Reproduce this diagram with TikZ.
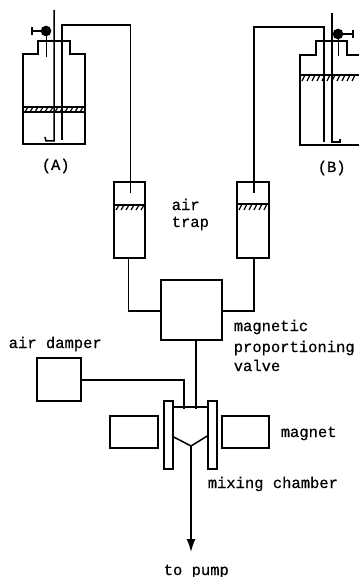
\documentclass[tikz,border=0pt]{standalone}
\usepackage{fontspec}
\setmonofont[FakeBold=0.6]{Liberation Mono}
\usetikzlibrary{arrows.meta}
\usetikzlibrary{positioning}

\tikzset{
    box/.style={draw, rectangle, inner sep=0pt},
    label/.style={anchor=base west, inner sep=0pt, font=\ttfamily\fontsize{15.5}{15.5}\selectfont},
    hatch/.style={line width=1.2pt},
}

\begin{document}
\begin{tikzpicture}
        [
            x=1pt, y=-1pt,
            line width=1.5pt,
        ]
        \useasboundingbox (0,0) rectangle (359,577);

        % bottles
        \draw (23,144) -- (23,54) -- (38,54) -- (38,41) -- (70,41) -- (70,54) -- (85,54) -- (85,144) -- cycle;
        \draw (359,55) -- (347,55) -- (347,41) -- (316,41) -- (316,55) -- (300,55) -- (300,145) -- (359,145);
        % liquid
        \draw (23,107) -- (85,107);
        \draw (23,112) -- (85,112);
        \draw (300,75) -- (359,75);
        \foreach \x in {25,30,...,80} \draw[hatch] (\x+3,107) -- (\x,112);
        \foreach \x in {302,307,...,355} \draw[hatch] (\x+3,75) -- (\x,81);

        % stopcocks
        \node[box, circle, minimum size=9pt, fill=black] (cockA) at (46,31) {};
        \node[box, circle, minimum size=9pt, fill=black] (cockB) at (338,34) {};
        \draw (cockA) -- (32,31) (32,27) -- (32,35);
        \draw (cockB) -- (353,34) (353,30) -- (353,38);
        \draw[line width=1pt] (cockA) -- (46,57);
        \draw[line width=1pt] (cockB) -- (338,56);

        % inner tubes
        \draw (54,10) -- (54,141) -- (46,141) -- (45,137);
        \draw (332,13) -- (332,142) -- (340,142) -- (340,139);

        % air traps
        \node[box, minimum width=31pt, minimum height=76pt] (trapA) at (129.5,220) {};
        \node[box, minimum width=32pt, minimum height=76pt] (trapB) at (253,220) {};
        \draw (trapA.west |- 0,205) -- (trapA.east |- 0,205);
        \draw (trapB.west |- 0,204) -- (trapB.east |- 0,204);
        \foreach \x in {116,121,...,141} \draw[hatch] (\x+3,205) -- (\x,210);
        \foreach \x in {239,244,...,264} \draw[hatch] (\x+3,204) -- (\x,210);

        % long tubes
        \coordinate (tubeA) at (62,140);
        \coordinate (tubeB) at (324,142);
        \draw (tubeA) -- (62,25) -- (130.5,25) -- (130.5,193);
        \draw (tubeB) -- (324,27) -- (254,27) -- (254,193);

        % valve, damper, magnets
        \node[box, minimum width=61pt, minimum height=60pt] (valve) at (191.5,310) {};
        \node[box, minimum width=44pt, minimum height=43pt] (damper) at (59,379.5) {};
        \node[box, minimum width=48pt, minimum height=32pt] (magnetA) at (134,432) {};
        \node[box, minimum width=47pt, minimum height=32pt] (magnetB) at (245.5,432) {};
        \draw (trapA.south -| 128.5,0) |- (valve.west |- 0,311);
        \draw (trapB.south -| 254,0) |- (valve.east |- 0,311);

        % mixing chamber
        \node[box, minimum width=9pt, minimum height=68pt] (plateA) at (168.5,435) {};
        \node[box, minimum width=9pt, minimum height=68pt] (plateB) at (212.5,435) {};
        \coordinate (tip) at (191,446);
        \draw (plateA.east |- 0,407) -- (plateB.west |- 0,407);
        \draw (plateA.east |- 0,437) -- (tip) -- (plateB.west |- 0,436);
        \draw (valve.south -| 196,0) -- (196,409);
        \draw (damper.east |- 0,380) -| (184,409);
        \coordinate (pump) at (191,552);
        \draw[-{Latex[length=13pt,width=9pt]}] (tip) -- (pump);

        % labels
        \node[label] (labelA) at (41,170) {(A)};
        \node[label] (labelB) at (317,172) {(B)};
        \node[label] (air) at (171,210) {air};
        \node[label] (trap) at (171,227) {trap};
        \node[label] (mag1) at (233,331) {magnetic};
        \node[label] (mag2) at (233,352) {proportioning};
        \node[label] (mag3) at (233,371) {valve};
        \node[label] (airdamper) at (8,348) {air damper};
        \node[label] (magnet) at (280,437) {magnet};
        \node[label] (mixing) at (207,488) {mixing chamber};
        \node[label] (topump) at (163,575) {to pump};
    \end{tikzpicture}
\end{document}
